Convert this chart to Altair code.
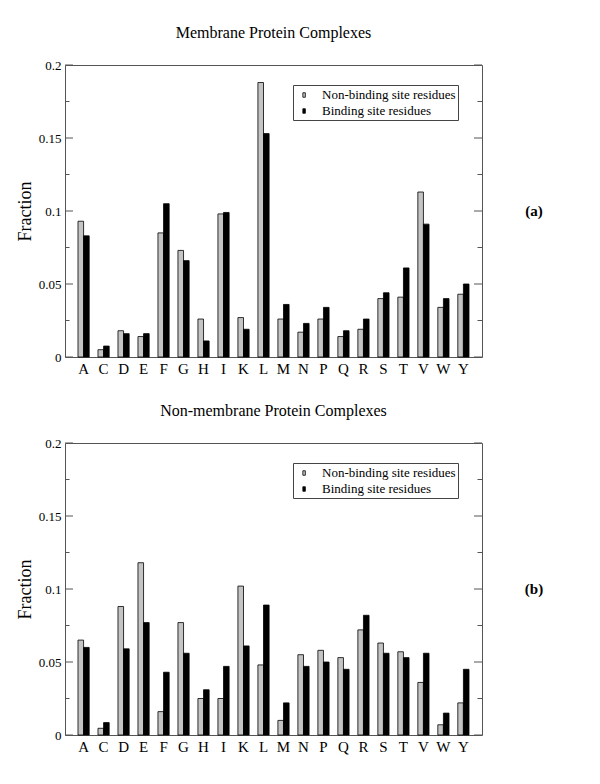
import altair as alt
import pandas as pd

residues = ["A", "C", "D", "E", "F", "G", "H", "I", "K", "L",
            "M", "N", "P", "Q", "R", "S", "T", "V", "W", "Y"]
series = ["Non-binding site residues", "Binding site residues"]

# (a) Membrane protein complexes
mem_nonbinding = [0.093, 0.005, 0.018, 0.014, 0.085, 0.073, 0.026, 0.098, 0.027, 0.188,
                  0.026, 0.017, 0.026, 0.014, 0.019, 0.040, 0.041, 0.113, 0.034, 0.043]
mem_binding = [0.083, 0.0075, 0.016, 0.016, 0.105, 0.066, 0.011, 0.099, 0.019, 0.153,
               0.036, 0.023, 0.034, 0.018, 0.026, 0.044, 0.061, 0.091, 0.040, 0.050]

# (b) Non-membrane protein complexes
non_nonbinding = [0.065, 0.0046, 0.088, 0.118, 0.016, 0.077, 0.025, 0.025, 0.102, 0.048,
                  0.010, 0.055, 0.058, 0.053, 0.072, 0.063, 0.057, 0.036, 0.007, 0.022]
non_binding = [0.060, 0.0085, 0.059, 0.077, 0.043, 0.056, 0.031, 0.047, 0.061, 0.089,
               0.022, 0.047, 0.050, 0.045, 0.082, 0.056, 0.053, 0.056, 0.015, 0.045]

major_ticks = [0, 0.05, 0.1, 0.15, 0.2]
minor_ticks = [0.025, 0.075, 0.125, 0.175]

W, H = 417, 292
FONT = "Liberation Serif"
FRAME = "#555555"


def panel(nonb, bind, title, tag):
    df = pd.DataFrame({
        "residue": residues * 2,
        "kind": [series[0]] * len(residues) + [series[1]] * len(residues),
        "value": nonb + bind,
    })
    yscale = alt.Scale(domain=[0, 0.2], nice=False, zero=True)
    yaxis = alt.Axis(title="Fraction", values=major_ticks, format=".2~f",
                     ticks=False, domain=False, grid=False,
                     labelFont=FONT, labelFontSize=13, labelColor="black",
                     labelPadding=4, titleFont=FONT, titleFontSize=18,
                     titleFontWeight="normal", titleColor="black",
                     titleX=-31, titleY=H / 2)
    bars = alt.Chart(df).mark_bar(stroke="black", strokeWidth=0.8).encode(
        x=alt.X("residue:N", sort=residues,
                scale=alt.Scale(paddingInner=0.44, paddingOuter=0.65),
                axis=alt.Axis(title=None, labelAngle=0, ticks=False, domain=False,
                              labelFont=FONT, labelFontSize=15, labelColor="black",
                              labelPadding=4)),
        xOffset=alt.XOffset("kind:N", sort=series,
                            scale=alt.Scale(paddingInner=0, paddingOuter=0)),
        y=alt.Y("value:Q", scale=yscale, axis=yaxis),
        color=alt.Color("kind:N", sort=series,
                        scale=alt.Scale(domain=series, range=["#c4c4c4", "black"]),
                        legend=alt.Legend(title=None, orient="none", legendX=228, legendY=20,
                                          fillColor="white", strokeColor="#444444",
                                          padding=2, labelFont=FONT, labelFontSize=13,
                                          labelColor="black", labelOffset=11,
                                          symbolType="M-0.02,-0.3H0.313V0.3H-0.02Z",
                                          symbolSize=225, symbolStrokeColor="black",
                                          symbolStrokeWidth=0.8, rowPadding=1,
                                          symbolOpacity=1)),
    )

    def tick_layer(vals, x0, x1):
        return alt.Chart(pd.DataFrame({"value": vals})).mark_rule(
            color=FRAME, strokeWidth=1).encode(
            y=alt.Y("value:Q", scale=yscale, axis=yaxis),
            x=alt.value(x0), x2=alt.value(x1))

    tag_chart = alt.Chart(pd.DataFrame({"t": [tag]})).mark_text(
        font=FONT, fontSize=15, fontWeight="bold", color="black").encode(
        text="t:N", x=alt.value(469), y=alt.value(146))

    return alt.layer(
        bars,
        tick_layer(major_ticks, 0, 8),
        tick_layer(minor_ticks, 0, 4.5),
        tick_layer(major_ticks, W - 8, W),
        tick_layer(minor_ticks, W - 4.5, W),
        tag_chart,
    ).properties(
        width=W, height=H,
        title=alt.Title(title, font=FONT, fontSize=16, fontWeight="normal",
                        color="black", offset=18, anchor="middle", frame="group"),
    )


top = panel(mem_nonbinding, mem_binding, "Membrane Protein Complexes", "(a)")
bottom = panel(non_nonbinding, non_binding, "Non-membrane Protein Complexes", "(b)")

chart = alt.vconcat(top, bottom, spacing=25).resolve_scale(
    color="independent").resolve_legend(color="independent").configure_view(
    stroke=FRAME, strokeWidth=1).properties(
    padding={"left": 7, "top": 16, "right": 5, "bottom": 5},
    background="white")

chart.save("out.html", embed_options={"renderer": "svg", "actions": False})
